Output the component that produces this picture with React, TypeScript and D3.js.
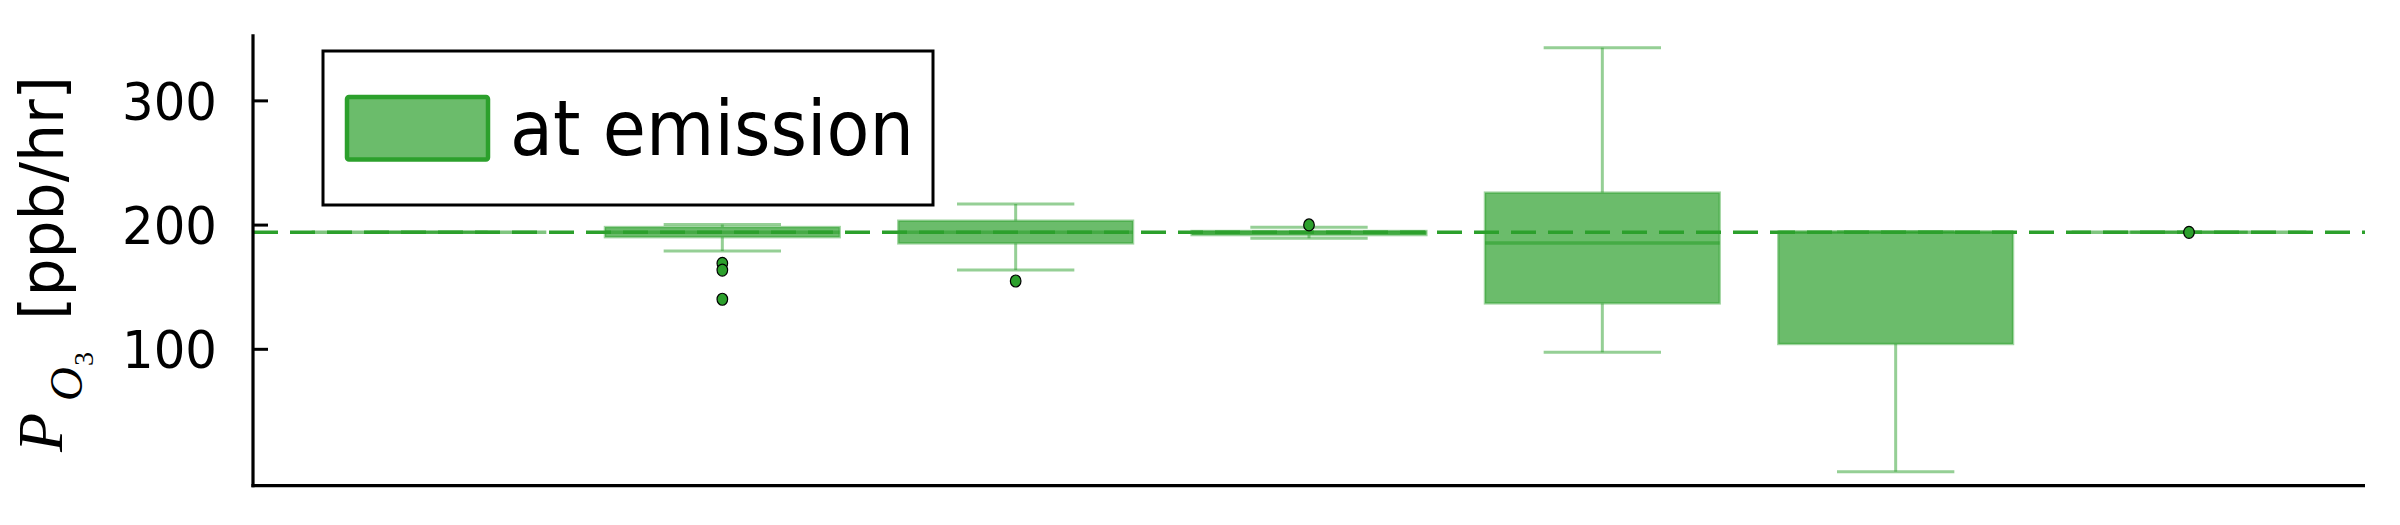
import React from 'react';
import * as d3 from 'd3';

// one box per category, position 1..7
const positions = [1, 2, 3, 4, 5, 6, 7];
const lowerWhisker = [194.2, 179.1, 163.8, 189.4, 97.6, 1.5, 194.2];
const q1 = [194.2, 190.3, 185.3, 192.0, 137.0, 104.3, 194.2];
const median = [194.2, 194.2, 194.2, 194.2, 185.6, 194.2, 194.2];
const q3 = [194.2, 198.4, 203.5, 195.2, 226.1, 194.6, 194.2];
const upperWhisker = [194.2, 200.5, 217.0, 198.2, 342.8, 194.6, 194.2];
const outliers = [[], [169.2, 163.8, 140.3], [155.0], [200.1], [], [], [194.2]];

const refValue = 194.2;
const yTicks = [100, 200, 300];
const legendLabel = 'at emission';

const GREEN = '#2ca02c';
const W = 2400;
const H = 525;

const App = () => {
  const x = d3.scaleLinear().domain([0.4, 7.6]).range([253, 2365]);
  const y = d3.scaleLinear().domain([-9.8, 353.6]).range([485.7, 34.3]);
  const halfBox = (x(1.4) - x(1));
  const halfCap = halfBox / 2;

  return (
    <svg width={W} height={H} style={{ position: 'absolute', left: 0, top: 0, background: '#fff' }}>
      <rect width={W} height={H} fill="#fff" />

      {/* boxes */}
      {positions.map((p, i) => {
        const cx = x(p);
        return (
          <g key={p}>
            <line x1={cx} x2={cx} y1={y(q3[i])} y2={y(upperWhisker[i])} stroke={GREEN} strokeOpacity={0.5} strokeWidth={3} />
            <line x1={cx} x2={cx} y1={y(q1[i])} y2={y(lowerWhisker[i])} stroke={GREEN} strokeOpacity={0.5} strokeWidth={3} />
            <line x1={cx - halfCap} x2={cx + halfCap} y1={y(upperWhisker[i])} y2={y(upperWhisker[i])} stroke={GREEN} strokeOpacity={0.5} strokeWidth={3} />
            <line x1={cx - halfCap} x2={cx + halfCap} y1={y(lowerWhisker[i])} y2={y(lowerWhisker[i])} stroke={GREEN} strokeOpacity={0.5} strokeWidth={3} />
            <rect
              x={cx - halfBox}
              y={y(q3[i])}
              width={halfBox * 2}
              height={Math.max(0, y(q1[i]) - y(q3[i]))}
              fill={GREEN}
              fillOpacity={0.7}
              stroke={GREEN}
              strokeOpacity={0.45}
              strokeWidth={2.5}
            />
            <line x1={cx - halfBox} x2={cx + halfBox} y1={y(median[i])} y2={y(median[i])} stroke={GREEN} strokeOpacity={0.6} strokeWidth={3.5} />
          </g>
        );
      })}

      {/* reference line */}
      <line x1={x(0.4)} x2={x(7.6)} y1={y(refValue)} y2={y(refValue)} stroke={GREEN} strokeWidth={3.5} strokeDasharray="25 12" />

      {/* outliers */}
      {positions.map((p, i) =>
        outliers[i].map((v, j) => (
          <ellipse key={`${p}-${j}`} cx={x(p)} cy={y(v)} rx={5.3} ry={6} fill={GREEN} stroke="#000" strokeWidth={1.2} />
        ))
      )}

      {/* axes */}
      <line x1={253} x2={253} y1={34.3} y2={487.2} stroke="#000" strokeWidth={3.2} />
      <line x1={251.4} x2={2365} y1={485.7} y2={485.7} stroke="#000" strokeWidth={3.2} />
      {yTicks.map(t => (
        <g key={t}>
          <line x1={253} x2={268} y1={y(t)} y2={y(t)} stroke="#000" strokeWidth={3} />
          <text
            x={217}
            y={y(t)}
            dy="0.36em"
            textAnchor="end"
            fontFamily="DejaVu Sans"
            fontSize={52}
            textLength={95}
            lengthAdjust="spacingAndGlyphs"
            fill="#000"
          >
            {t}
          </text>
        </g>
      ))}

      {/* y label: P_{O_3} [ppb/hr] */}
      <g fill="#000">
        <text transform="translate(62,452) rotate(-90)" fontFamily="Liberation Serif" fontStyle="italic" fontSize={64}>P</text>
        <text transform="translate(82,401) rotate(-90)" fontFamily="Liberation Serif" fontStyle="italic" fontSize={47}>O</text>
        <text transform="translate(93,366) rotate(-90)" fontFamily="Liberation Serif" fontSize={28}>3</text>
        <text transform="translate(62.5,320) rotate(-90)" fontFamily="DejaVu Sans" fontSize={60}>[ppb/hr]</text>
      </g>

      {/* legend */}
      <rect x={323} y={51} width={610} height={154} fill="#fff" stroke="#000" strokeWidth={3} />
      <rect x={347} y={97} width={141} height={62.5} rx={2} fill={GREEN} fillOpacity={0.7} stroke={GREEN} strokeWidth={4.5} />
      <text
        x={510}
        y={155}
        fontFamily="DejaVu Sans"
        fontSize={77}
        textLength={404}
        lengthAdjust="spacingAndGlyphs"
        fill="#000"
      >
        {legendLabel}
      </text>
    </svg>
  );
};

export default App;
